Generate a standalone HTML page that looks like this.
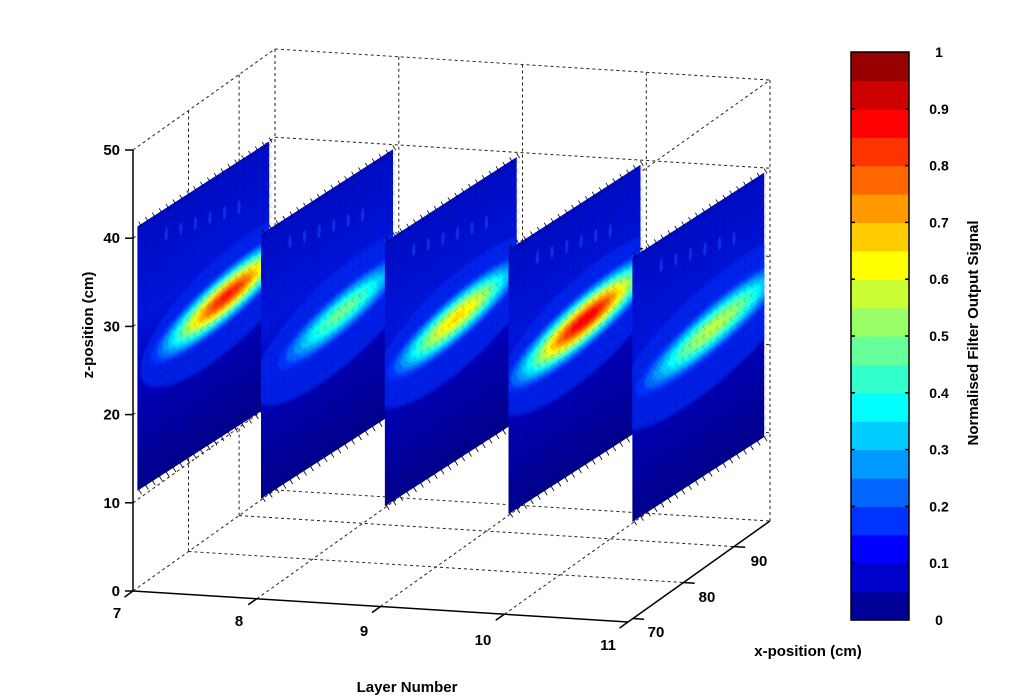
<!DOCTYPE html>
<html><head><meta charset="utf-8"><style>
html,body{margin:0;padding:0;background:#fff;}
svg{display:block;font-family:"Liberation Sans",Arial,sans-serif;font-weight:bold;}
</style></head><body>
<svg id="s" xmlns="http://www.w3.org/2000/svg" width="1024" height="698" viewBox="0 0 1024 698">
<rect width="1024" height="698" fill="#fff"/>
<defs>
<linearGradient id="bg" x1="0" y1="0" x2="0" y2="1">
<stop offset="0" stop-color="#000cc4"/>
<stop offset="0.35" stop-color="#0014dc"/>
<stop offset="0.6" stop-color="#0000bc"/>
<stop offset="1" stop-color="#00008c"/>
</linearGradient>
<filter id="bl" x="-20%" y="-20%" width="140%" height="140%"><feGaussianBlur stdDeviation="0.7"/></filter>
</defs>
<g id="grid" fill="none" stroke="#222" stroke-width="1" stroke-dasharray="3,3"></g>
<g id="slices"></g>
<g id="axes" stroke="#000" stroke-width="1.5" fill="none"></g>
<g id="labels" font-size="15" fill="#000"></g>
<g id="cbar"></g>
<text x="407" y="692" font-size="15" text-anchor="middle">Layer Number</text>
<text x="808" y="656" font-size="15" text-anchor="middle">x-position (cm)</text>
<text transform="translate(93,325) rotate(-90)" font-size="15" text-anchor="middle">z-position (cm)</text>
<text transform="translate(978,333) rotate(-90)" font-size="15" text-anchor="middle">Normalised Filter Output Signal</text>
</svg>
<script>
(function(){
const NS='http://www.w3.org/2000/svg';
function el(tag,attrs,parent){const e=document.createElementNS(NS,tag);for(const k in attrs)e.setAttribute(k,attrs[k]);if(parent)parent.appendChild(e);return e;}
function P(L,t,Z){return [133+123.75*(L-7)+142*t, 591+7.75*(L-7)-101*t-8.82*Z];}
function tX(X){return 0.035+(X-70)*0.0356;}
function line(g,a,b,extra){const at={x1:a[0].toFixed(1),y1:a[1].toFixed(1),x2:b[0].toFixed(1),y2:b[1].toFixed(1)};if(extra)Object.assign(at,extra);return el('line',at,g);}
function clamp(x){return Math.max(0,Math.min(1,x));}
function jet(x){const r=clamp(1.5-Math.abs(4*x-3)),g=clamp(1.5-Math.abs(4*x-2)),b=clamp(1.5-Math.abs(4*x-1));return 'rgb('+Math.round(r*255)+','+Math.round(g*255)+','+Math.round(b*255)+')';}
const grid=document.getElementById('grid');
for(let L=8;L<=10;L++)line(grid,P(L,1,0),P(L,1,50));
for(let Z=0;Z<=50;Z+=10)line(grid,P(7,1,Z),P(11,1,Z));
line(grid,P(11,1,0),P(11,1,50));
line(grid,P(11,0,50),P(11,1,50));
[80,90].forEach(X=>line(grid,P(7,tX(X),0),P(7,tX(X),50)));
line(grid,P(7,1,0),P(7,1,50));
for(let Z=0;Z<=50;Z+=10)line(grid,P(7,0,Z),P(7,1,Z));
for(let L=8;L<=10;L++)line(grid,P(L,0,0),P(L,1,0));
[80,90].forEach(X=>line(grid,P(7,tX(X),0),P(11,tX(X),0)));
const sl=document.getElementById('slices');
const blobs=[
 {cu:68,cv:48,rx:44,ry:8,rot:-5,pk:0.86},
 {cu:62,cv:49,rx:46,ry:8,rot:-5,pk:0.48},
 {cu:55,cv:46,rx:44,ry:8,rot:-5,pk:0.66},
 {cu:58,cv:45,rx:46,ry:8.5,rot:-5,pk:0.90},
 {cu:62,cv:46,rx:52,ry:8.5,rot:-5,pk:0.56}
];
for(let k=0;k<5;k++){
 const b=blobs[k];
 const e=137.26+123.75*k,f=226.4+7.75*k;
 const g=el('g',{transform:`matrix(1.3206,-0.85,0,2.646,${e.toFixed(2)},${f.toFixed(2)})`},sl);
 const clipId='c'+k;
 const cp=el('clipPath',{id:clipId},g);el('rect',{x:0,y:0,width:100,height:100},cp);
 const inner=el('g',{'clip-path':`url(#${clipId})`},g);
 el('rect',{x:0,y:0,width:100,height:100,fill:'url(#bg)'},inner);
 for(let i=0;i<6;i++)el('ellipse',{cx:22+i*11,cy:10+i*1.5,rx:1.3,ry:2.5,fill:'#1a50ff',opacity:0.5},inner);
 const bg2=el('g',{transform:`translate(${b.cu},${b.cv}) rotate(${b.rot})`,filter:'url(#bl)'},inner);
 el('ellipse',{cx:0,cy:2,rx:b.rx*1.5,ry:b.ry*2.4,fill:'#0028f0',opacity:0.8},bg2);
 for(let l=0.15;l<b.pk;l+=0.05){
  const r=Math.sqrt(Math.log(b.pk/l));
  el('ellipse',{cx:0,cy:0,rx:(b.rx*r).toFixed(2),ry:(b.ry*r).toFixed(2),fill:jet(l+0.025)},bg2);
 }
 let d='';
 for(let i=0;i<=19;i++)for(let j=0;j<=26;j++){
  const u=i*5.2+1,v=j*3.8+1.5;
  const x=e+1.3206*u,y=f-0.85*u+2.646*v;
  d+=`M${(x+2.5).toFixed(1)} ${(y-3).toFixed(1)}L${x.toFixed(1)} ${y.toFixed(1)}L${(x+3).toFixed(1)} ${(y+2).toFixed(1)}`;
 }
 el('path',{d:d,stroke:'#000',fill:'none','stroke-width':0.6,opacity:0.22},sl);
 let d2='';
 for(let i=0;i<=19;i++){
  const u=i*5.2+1;
  const xt=e+1.3206*u,yt=f-0.85*u,yb=yt+264.6;
  d2+=`M${xt.toFixed(1)} ${(yt-4).toFixed(1)}L${(xt+3).toFixed(1)} ${(yt+1).toFixed(1)}`;
  d2+=`M${xt.toFixed(1)} ${(yb-1).toFixed(1)}L${(xt+3).toFixed(1)} ${(yb+4).toFixed(1)}`;
 }
 el('path',{d:d2,stroke:'#000',fill:'none','stroke-width':0.8},sl);
}
const ax=document.getElementById('axes');
line(ax,P(7,0,0),P(7,0,50));
line(ax,P(7,0,0),P(11,0,0));
line(ax,P(11,0,0),P(11,1,0));
const lab=document.getElementById('labels');
for(let Z=0;Z<=50;Z+=10){const p=P(7,0,Z);line(ax,p,[p[0]-8,p[1]]);const t=el('text',{x:p[0]-13,y:p[1]+5,'text-anchor':'end'},lab);t.textContent=Z;}
const Lpos=[[117,618],[239,626],[364,636],[483,645],[608,650]];
for(let L=7;L<=11;L++){const p=P(L,0,0);line(ax,p,P(L,-0.06,0));const t=el('text',{x:Lpos[L-7][0],y:Lpos[L-7][1],'text-anchor':'middle'},lab);t.textContent=L;}
const Xpos=[[656,637],[707,602],[759,566]];
[70,80,90].forEach((X,i)=>{const p=P(11,tX(X),0);line(ax,p,P(11.09,tX(X),0));const t=el('text',{x:Xpos[i][0],y:Xpos[i][1],'text-anchor':'middle'},lab);t.textContent=X;});
const cb=document.getElementById('cbar');
const cTop=52,cBot=620,x0=851,w=58;
for(let i=0;i<20;i++){const y1=cBot-(i+1)*(cBot-cTop)/20;el('rect',{x:x0,y:y1.toFixed(1),width:w,height:((cBot-cTop)/20+0.6).toFixed(1),fill:jet(i*0.05+0.025)},cb);}
el('rect',{x:x0,y:cTop,width:w,height:cBot-cTop,fill:'none',stroke:'#000','stroke-width':1.5},cb);
for(let i=0;i<=10;i++){const y=cBot-i*(cBot-cTop)/10;
 if(i>0&&i<10){el('line',{x1:x0,x2:x0+4,y1:y,y2:y,stroke:'#000','stroke-width':1.5},cb);el('line',{x1:x0+w-4,x2:x0+w,y1:y,y2:y,stroke:'#000','stroke-width':1.5},cb);}
 const t=el('text',{x:939,y:(y+5).toFixed(1),'text-anchor':'middle','font-size':14},cb);t.textContent=(i==0?'0':i==10?'1':(i/10).toFixed(1));}
})();
</script>
</body></html>
